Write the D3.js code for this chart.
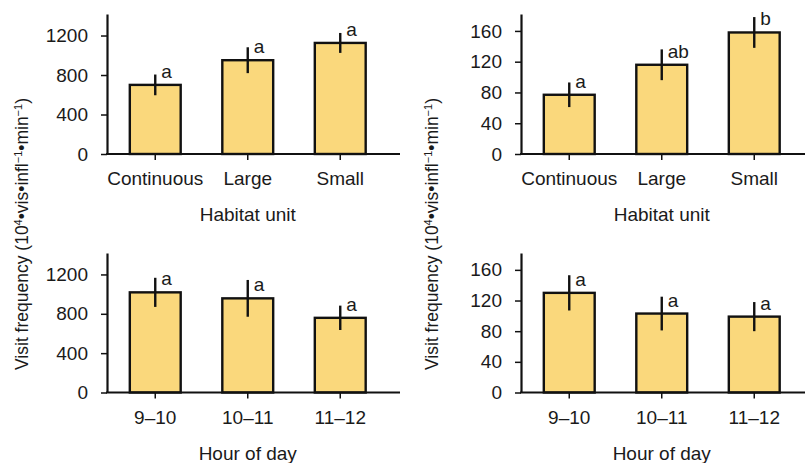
<!DOCTYPE html>
<html>
<head>
    <meta charset="utf-8" />
    <style>
        body { margin: 0; background: #fff; }
        svg text { font-family: "Liberation Sans", Arial, Helvetica, sans-serif; fill: #1a1a1a; }
    </style>
    <script src="https://d3js.org/d3.v7.min.js"></script>
</head>
<body>
<svg id="chart"></svg>
<script>

// data
let habitats = ["Continuous", "Large", "Small"];
let hours = ["9–10", "10–11", "11–12"];

let habitatVisitsA = [700, 950, 1125];
let habitatErrA = [105, 131, 101];
let habitatLettersA = ["a", "a", "a"];

let habitatVisitsB = [77, 116, 158];
let habitatErrB = [16, 20, 20];
let habitatLettersB = ["a", "ab", "b"];

let hourVisitsA = [1018, 957, 759];
let hourErrA = [148, 187, 124];
let hourLettersA = ["a", "a", "a"];

let hourVisitsB = [130, 103, 99];
let hourErrB = [23, 22, 19];
let hourLettersB = ["a", "a", "a"];

let ticksA = [0, 400, 800, 1200];
let ticksB = [0, 40, 80, 120, 160];

/* layout */

let W = 805, H = 463;
let svg = d3.select("#chart").attr("width", W).attr("height", H);

let fill = "#fad87c";

let panels = [
    { cats: habitats, vals: habitatVisitsA, errs: habitatErrA, letters: habitatLettersA,
      ymax: 1418, ticks: ticksA, left: 107, right: 400, top: 14, bottom: 154, title: "Habitat unit" },
    { cats: habitats, vals: habitatVisitsB, errs: habitatErrB, letters: habitatLettersB,
      ymax: 182, ticks: ticksB, left: 521, right: 805, top: 14, bottom: 154, title: "Habitat unit" },
    { cats: hours, vals: hourVisitsA, errs: hourErrA, letters: hourLettersA,
      ymax: 1418, ticks: ticksA, left: 107, right: 400, top: 253, bottom: 392.5, title: "Hour of day" },
    { cats: hours, vals: hourVisitsB, errs: hourErrB, letters: hourLettersB,
      ymax: 182, ticks: ticksB, left: 521, right: 805, top: 253, bottom: 392.5, title: "Hour of day" }
];

panels.forEach(drawPanel);

function drawPanel(p) {
    let g = svg.append("g");

    let x = d3.scaleBand()
        .domain(p.cats)
        .range([p.left + 2, p.left + 2 + 3 * 92.5])
        .paddingInner(0.45)
        .paddingOuter(0.225);

    let y = d3.scaleLinear()
        .domain([0, p.ymax])
        .range([p.bottom, p.top]);

    let rows = p.cats.map((c, i) => ({ cat: c, v: p.vals[i], e: p.errs[i], l: p.letters[i] }));

    // bars
    g.selectAll("rect.bar")
        .data(rows)
        .enter().append("rect")
        .attr("class", "bar")
        .attr("x", d => x(d.cat))
        .attr("width", x.bandwidth())
        .attr("y", d => y(d.v))
        .attr("height", d => y(0) - y(d.v))
        .style("fill", fill)
        .style("stroke", "#111")
        .style("stroke-width", 2.4);

    // error bars
    g.selectAll("line.err")
        .data(rows)
        .enter().append("line")
        .attr("class", "err")
        .attr("x1", d => x(d.cat) + x.bandwidth() / 2)
        .attr("x2", d => x(d.cat) + x.bandwidth() / 2)
        .attr("y1", d => y(d.v - d.e))
        .attr("y2", d => y(d.v + d.e))
        .style("stroke", "#111")
        .style("stroke-width", 2.4);

    // significance letters
    g.selectAll("text.sig")
        .data(rows)
        .enter().append("text")
        .attr("class", "sig")
        .attr("x", d => x(d.cat) + x.bandwidth() / 2 + 6)
        .attr("y", d => y(d.v) - 7)
        .style("font-size", "19px")
        .text(d => d.l);

    // y axis
    let yAxis = g.append("g")
        .attr("transform", "translate(" + p.left + ",0)")
        .call(d3.axisLeft(y).tickValues(p.ticks).tickFormat(d3.format("d"))
            .tickSize(6).tickSizeOuter(0).tickPadding(13));
    yAxis.select(".domain").style("stroke", "#111").style("stroke-width", 2.2);
    yAxis.selectAll(".tick line").style("stroke", "#111").style("stroke-width", 1.5);
    yAxis.selectAll(".tick text")
        .style("font-size", "19px")
        .style("font-family", "'Liberation Sans', Arial, sans-serif")
        .attr("fill", "#1a1a1a");

    // x axis
    let xAxis = g.append("g")
        .attr("transform", "translate(0," + p.bottom + ")")
        .call(d3.axisBottom(x).tickSize(6).tickSizeOuter(0).tickPadding(12));
    xAxis.select(".domain").remove();
    xAxis.append("line")
        .attr("x1", p.left - 1)
        .attr("x2", p.right)
        .style("stroke", "#111")
        .style("stroke-width", 2.2);
    xAxis.selectAll(".tick line").style("stroke", "#111").style("stroke-width", 1.5);
    xAxis.selectAll(".tick text")
        .style("font-size", "19px")
        .style("font-family", "'Liberation Sans', Arial, sans-serif")
        .attr("fill", "#1a1a1a");

    // axis title
    g.append("text")
        .attr("x", p.left + 2 + 1.5 * 92.5)
        .attr("y", p.bottom + 67)
        .attr("text-anchor", "middle")
        .style("font-size", "19px")
        .text(p.title);
}

// rotated y labels spanning both rows
[28, 438].forEach(bx => {
    let t = svg.append("text")
        .attr("transform", "translate(" + bx + ",234) rotate(-90)")
        .attr("text-anchor", "middle")
        .style("font-size", "17.5px");
    t.append("tspan").text("Visit frequency (10");
    t.append("tspan").attr("baseline-shift", "super").style("font-size", "11px").text("4");
    t.append("tspan").text("•vis•infl");
    t.append("tspan").attr("baseline-shift", "super").style("font-size", "11px").text("−1");
    t.append("tspan").text("•min");
    t.append("tspan").attr("baseline-shift", "super").style("font-size", "11px").text("−1");
    t.append("tspan").text(")");
});

</script>
</body>
</html>
